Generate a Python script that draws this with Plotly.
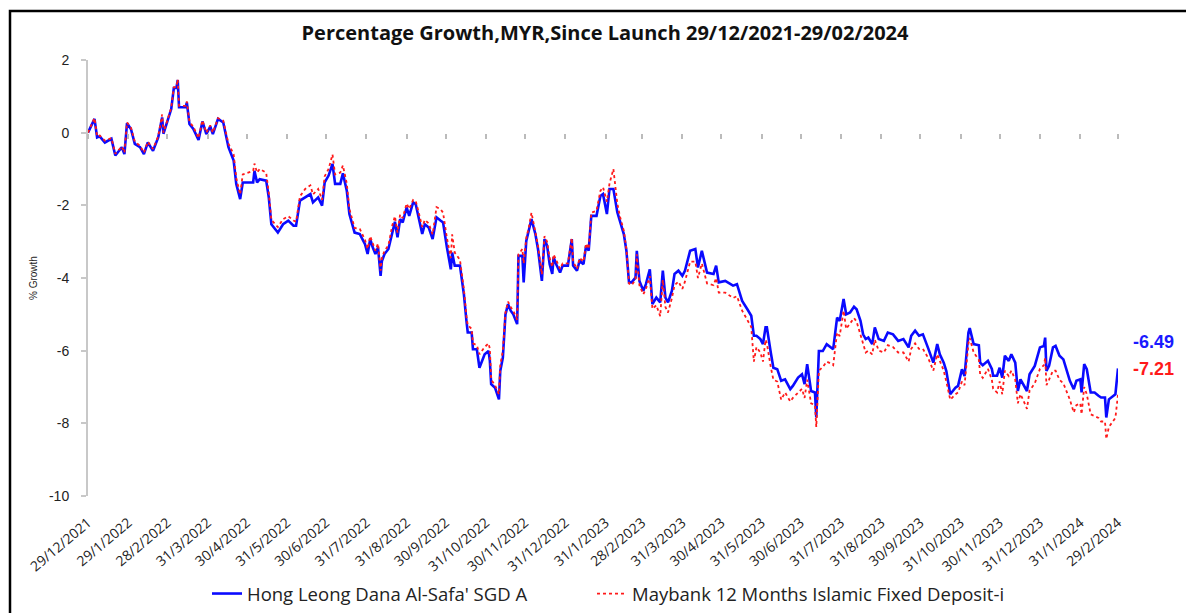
import plotly.graph_objects as go

dates = [
"2021-12-29","2022-01-03","2022-01-05","2022-01-07","2022-01-11","2022-01-16","2022-01-19","2022-01-24","2022-01-26","2022-01-28",
"2022-01-31","2022-02-03","2022-02-07","2022-02-10","2022-02-13","2022-02-17","2022-02-21","2022-02-24","2022-02-25","2022-03-01",
"2022-03-03","2022-03-05","2022-03-07","2022-03-08","2022-03-09","2022-03-14","2022-03-15","2022-03-17","2022-03-20","2022-03-24",
"2022-03-27","2022-03-30","2022-04-02","2022-04-04","2022-04-08","2022-04-12","2022-04-16","2022-04-20","2022-04-22","2022-04-25",
"2022-04-27","2022-05-05","2022-05-06","2022-05-08","2022-05-10","2022-05-15","2022-05-17","2022-05-19","2022-05-24","2022-05-28",
"2022-06-01","2022-06-05","2022-06-07","2022-06-10","2022-06-14","2022-06-18","2022-06-20","2022-06-24","2022-06-27","2022-06-29",
"2022-07-02","2022-07-05","2022-07-07","2022-07-11","2022-07-13","2022-07-16","2022-07-18","2022-07-22","2022-07-26","2022-07-30",
"2022-08-01","2022-08-03","2022-08-05","2022-08-07","2022-08-09","2022-08-11","2022-08-12","2022-08-14","2022-08-17","2022-08-20",
"2022-08-22","2022-08-24","2022-08-26","2022-08-28","2022-08-31","2022-09-02","2022-09-05","2022-09-07","2022-09-10","2022-09-12",
"2022-09-14","2022-09-17","2022-09-20","2022-09-23","2022-09-26","2022-09-28","2022-10-01","2022-10-04","2022-10-05","2022-10-07",
"2022-10-11","2022-10-14","2022-10-16","2022-10-17","2022-10-20","2022-10-21","2022-10-24","2022-10-26","2022-10-30","2022-11-02",
"2022-11-03","2022-11-04","2022-11-07","2022-11-10","2022-11-11","2022-11-13","2022-11-15","2022-11-17","2022-11-19","2022-11-21",
"2022-11-24","2022-11-25","2022-11-28","2022-11-29","2022-12-01","2022-12-03","2022-12-05","2022-12-08","2022-12-10","2022-12-13",
"2022-12-15","2022-12-17","2022-12-19","2022-12-21","2022-12-22","2022-12-24","2022-12-27","2022-12-29","2023-01-02","2023-01-05",
"2023-01-06","2023-01-09","2023-01-11","2023-01-14","2023-01-16","2023-01-18","2023-01-20","2023-01-24","2023-01-27","2023-01-29",
"2023-02-01","2023-02-03","2023-02-06","2023-02-09","2023-02-11","2023-02-14","2023-02-16","2023-02-18","2023-02-20","2023-02-23",
"2023-02-24","2023-02-26","2023-03-01","2023-03-03","2023-03-06","2023-03-08","2023-03-11","2023-03-14","2023-03-16","2023-03-18",
"2023-03-20","2023-03-23","2023-03-25","2023-03-28","2023-03-31","2023-04-02","2023-04-06","2023-04-10","2023-04-12","2023-04-15",
"2023-04-19","2023-04-24","2023-04-26","2023-04-28","2023-05-03","2023-05-09","2023-05-12","2023-05-16","2023-05-20","2023-05-23",
"2023-05-25","2023-05-27","2023-05-30","2023-06-01","2023-06-03","2023-06-04","2023-06-07","2023-06-09","2023-06-12","2023-06-15",
"2023-06-18","2023-06-21","2023-06-22","2023-06-24","2023-06-28","2023-07-01","2023-07-03","2023-07-05","2023-07-08","2023-07-11",
"2023-07-12","2023-07-14","2023-07-17","2023-07-20","2023-07-23","2023-07-25","2023-07-28","2023-07-30","2023-08-02","2023-08-04",
"2023-08-07","2023-08-10","2023-08-12","2023-08-15","2023-08-17","2023-08-19","2023-08-21","2023-08-24","2023-08-26","2023-08-29",
"2023-09-02","2023-09-05","2023-09-09","2023-09-13","2023-09-17","2023-09-21","2023-09-23","2023-09-26","2023-09-29","2023-10-02",
"2023-10-06","2023-10-10","2023-10-13","2023-10-15","2023-10-18","2023-10-20","2023-10-23","2023-10-27","2023-10-29","2023-11-01",
"2023-11-03","2023-11-06","2023-11-07","2023-11-10","2023-11-14","2023-11-15","2023-11-17","2023-11-21","2023-11-24","2023-11-25",
"2023-11-28","2023-11-30","2023-12-02","2023-12-04","2023-12-07","2023-12-09","2023-12-12","2023-12-14","2023-12-16","2023-12-18",
"2023-12-21","2023-12-23","2023-12-27","2023-12-31","2024-01-03","2024-01-04","2024-01-05","2024-01-07","2024-01-10","2024-01-12",
"2024-01-15","2024-01-18","2024-01-21","2024-01-23","2024-01-26","2024-01-28","2024-01-31","2024-02-01","2024-02-03","2024-02-05",
"2024-02-08","2024-02-11","2024-02-14","2024-02-16","2024-02-19","2024-02-20","2024-02-22","2024-02-27","2024-02-29",
]

fund = [
0.00,0.38,-0.13,-0.10,-0.27,-0.17,-0.63,-0.40,-0.59,0.26,
0.10,-0.31,-0.40,-0.59,-0.27,-0.50,-0.13,0.42,-0.03,0.47,
0.65,1.23,1.23,1.45,0.70,0.70,0.83,0.24,0.10,-0.20,
0.31,-0.04,0.17,-0.04,0.38,0.28,-0.40,-0.77,-1.41,-1.83,
-1.37,-1.37,-1.05,-1.37,-1.28,-1.32,-1.78,-2.52,-2.75,-2.52,
-2.42,-2.56,-2.56,-1.87,-1.78,-1.69,-1.92,-1.78,-2.01,-1.37,
-1.18,-0.86,-1.41,-1.41,-1.12,-1.60,-2.24,-2.75,-2.79,-3.07,
-3.34,-2.93,-3.16,-3.34,-3.16,-3.94,-3.53,-3.34,-3.20,-2.70,
-2.45,-2.88,-2.38,-2.47,-2.06,-2.29,-1.92,-1.97,-2.47,-2.79,
-2.52,-2.61,-2.93,-2.33,-2.42,-2.47,-3.16,-3.76,-3.30,-3.66,
-3.66,-4.44,-5.18,-5.50,-5.50,-5.96,-5.96,-6.47,-6.10,-6.01,
-6.28,-6.92,-7.02,-7.34,-6.56,-6.19,-5.00,-4.72,-4.90,-5.00,
-5.27,-3.39,-3.39,-4.12,-2.98,-2.70,-2.38,-2.79,-3.20,-4.08,
-2.93,-3.11,-3.62,-3.89,-3.43,-3.62,-3.85,-3.66,-3.66,-2.93,
-3.66,-3.80,-3.53,-3.62,-3.11,-3.25,-2.29,-2.29,-1.74,-1.69,
-2.24,-1.55,-1.55,-2.19,-2.42,-2.79,-3.25,-4.12,-4.12,-3.99,
-3.25,-4.08,-4.35,-4.17,-3.76,-4.72,-4.54,-4.67,-3.80,-4.54,
-4.67,-4.35,-3.89,-3.80,-3.94,-3.80,-3.25,-3.20,-3.71,-3.25,
-3.85,-3.89,-3.66,-4.12,-4.08,-4.21,-4.17,-4.63,-4.86,-5.04,
-5.59,-5.59,-5.68,-5.82,-5.36,-5.36,-6.05,-6.47,-6.51,-6.83,
-6.79,-6.97,-7.06,-6.97,-6.74,-6.65,-6.92,-6.37,-7.11,-7.15,
-7.84,-6.01,-6.01,-5.82,-5.91,-5.96,-5.09,-5.18,-4.58,-5.00,
-4.95,-4.79,-4.86,-5.18,-5.55,-5.68,-5.64,-5.82,-5.36,-5.68,
-5.73,-5.50,-5.55,-5.73,-5.68,-5.91,-5.59,-5.45,-5.59,-5.55,
-5.93,-6.33,-5.82,-6.10,-6.33,-6.56,-7.20,-7.02,-6.97,-6.51,
-6.70,-5.50,-5.38,-5.82,-5.85,-6.33,-6.40,-6.28,-6.50,-6.69,
-6.69,-6.47,-6.74,-6.14,-6.28,-6.10,-6.33,-7.11,-6.79,-6.92,
-7.11,-6.65,-6.42,-5.91,-5.87,-5.64,-6.56,-6.42,-5.91,-5.87,
-6.14,-6.24,-6.60,-6.83,-7.06,-6.83,-6.79,-7.15,-6.37,-6.51,
-7.15,-7.15,-7.24,-7.29,-7.29,-7.84,-7.34,-7.20,-6.49,
]

deposit = [
0.00,0.40,-0.10,-0.08,-0.22,-0.15,-0.58,-0.38,-0.55,0.28,
0.14,-0.25,-0.36,-0.55,-0.25,-0.45,-0.10,0.50,0.00,0.50,
0.68,1.25,1.26,1.47,0.74,0.74,0.86,0.30,0.16,-0.15,
0.34,0.00,0.20,0.00,0.40,0.33,-0.30,-0.60,-1.25,-1.70,
-1.15,-1.05,-0.85,-1.10,-1.00,-1.10,-1.65,-2.40,-2.60,-2.38,
-2.30,-2.42,-2.45,-1.75,-1.55,-1.45,-1.70,-1.55,-1.85,-1.20,
-1.00,-0.60,-1.15,-1.10,-0.90,-1.40,-2.10,-2.62,-2.65,-2.95,
-3.20,-2.85,-3.05,-3.25,-3.05,-3.80,-3.45,-3.25,-3.10,-2.55,
-2.30,-2.75,-2.25,-2.35,-1.95,-2.10,-1.85,-1.88,-2.30,-2.60,
-2.40,-2.50,-2.80,-2.05,-2.10,-2.20,-2.90,-3.45,-2.80,-3.30,
-3.50,-4.30,-5.05,-5.30,-5.40,-5.80,-5.85,-6.10,-5.90,-5.80,
-5.95,-6.80,-6.95,-7.20,-6.40,-6.00,-4.95,-4.65,-4.80,-4.90,
-5.15,-3.35,-3.20,-3.60,-2.90,-2.60,-2.20,-2.70,-3.10,-3.90,
-2.85,-3.00,-3.45,-3.70,-3.35,-3.50,-3.75,-3.60,-3.60,-2.90,
-3.55,-3.75,-3.45,-3.55,-3.05,-3.20,-2.20,-2.15,-1.60,-1.50,
-1.90,-1.40,-1.00,-1.95,-2.30,-2.70,-3.20,-4.15,-4.20,-4.05,
-3.35,-4.20,-4.45,-4.30,-3.95,-4.85,-4.75,-5.05,-4.05,-4.80,
-4.95,-4.55,-4.20,-4.10,-4.30,-4.10,-3.55,-3.55,-4.00,-3.60,
-4.15,-4.20,-4.00,-4.40,-4.40,-4.55,-4.50,-4.90,-5.15,-5.35,
-6.30,-5.90,-6.05,-6.30,-5.70,-5.80,-6.45,-6.80,-6.85,-7.35,
-7.15,-7.35,-7.40,-7.30,-7.15,-7.05,-7.30,-6.80,-7.45,-7.50,
-8.10,-6.55,-6.45,-6.30,-6.35,-6.40,-5.50,-5.60,-4.90,-5.40,
-5.25,-5.10,-5.20,-5.55,-5.85,-6.05,-6.00,-6.10,-5.70,-6.00,
-6.05,-5.85,-5.90,-6.05,-6.05,-6.30,-5.95,-5.80,-5.95,-5.95,
-6.20,-6.55,-6.10,-6.30,-6.55,-6.85,-7.35,-7.20,-7.15,-6.85,
-6.95,-5.80,-5.65,-6.05,-6.25,-6.65,-6.75,-6.50,-6.80,-7.05,
-7.15,-6.85,-7.20,-6.55,-6.70,-6.55,-6.80,-7.45,-7.20,-7.35,
-7.60,-7.10,-6.90,-6.50,-6.40,-6.20,-6.95,-6.80,-6.55,-6.55,
-6.80,-6.90,-7.15,-7.35,-7.70,-7.50,-7.45,-7.75,-7.00,-7.20,
-7.75,-7.80,-7.85,-7.95,-7.95,-8.43,-8.10,-7.85,-7.21,
]

tick_dates = [
"2021-12-29","2022-01-29","2022-02-28","2022-03-31","2022-04-30","2022-05-31","2022-06-30",
"2022-07-31","2022-08-31","2022-09-30","2022-10-31","2022-11-30","2022-12-31","2023-01-31",
"2023-02-28","2023-03-31","2023-04-30","2023-05-31","2023-06-30","2023-07-31","2023-08-31",
"2023-09-30","2023-10-31","2023-11-30","2023-12-31","2024-01-31","2024-02-29",
]
tick_labels = [
"29/12/2021","29/1/2022","28/2/2022","31/3/2022","30/4/2022","31/5/2022","30/6/2022",
"31/7/2022","31/8/2022","30/9/2022","31/10/2022","30/11/2022","31/12/2022","31/1/2023",
"28/2/2023","31/3/2023","30/4/2023","31/5/2023","30/6/2023","31/7/2023","31/8/2023",
"30/9/2023","31/10/2023","30/11/2023","31/12/2023","31/1/2024","29/2/2024",
]
y_ticks = [-10, -8, -6, -4, -2, 0, 2]
y_tick_labels = ["-10", "-8", "-6", "-4", "-2", "0", "2"]

series_names = ["Hong Leong Dana Al-Safa' SGD A", "Maybank 12 Months Islamic Fixed Deposit-i"]
title_text = "Percentage Growth,MYR,Since Launch 29/12/2021-29/02/2024"

W, H = 1186, 613
L, R, T, B = 88, 68, 60, 117
pw, ph = W - L - R, H - T - B

def px_x(p):
    return (p - L) / pw

def px_y(p):
    return (H - B - p) / ph

fig = go.Figure()
fig.add_trace(go.Scatter(
    x=dates, y=fund, name=series_names[0], mode="lines",
    line=dict(color="#0a0aff", width=2.6), xaxis="x", yaxis="y", legend="legend",
))
fig.add_trace(go.Scatter(
    x=dates, y=deposit, name=series_names[1], mode="lines",
    line=dict(color="#ff1a1a", width=1.8, dash="dot"), xaxis="x2", yaxis="y", legend="legend2",
))

fig.add_annotation(x=dates[-1], y=fund[-1], xref="x", yref="y", text="<b>%.2f</b>" % fund[-1],
                   showarrow=False, xanchor="left", yanchor="middle", xshift=13, yshift=26,
                   font=dict(family="Liberation Sans, Arial", size=18, color="#1a1aff"))
fig.add_annotation(x=dates[-1], y=deposit[-1], xref="x", yref="y", text="<b>%.2f</b>" % deposit[-1],
                   showarrow=False, xanchor="left", yanchor="middle", xshift=13, yshift=26,
                   font=dict(family="Liberation Sans, Arial", size=18, color="#ff1a1a"))

fig.add_shape(type="rect", xref="paper", yref="paper",
              x0=px_x(10), x1=px_x(1230), y0=px_y(700), y1=px_y(11),
              line=dict(color="black", width=2.5), fillcolor="rgba(0,0,0,0)", layer="above")

legend_font = dict(family="Open Sans, Lato", size=18.5, color="#222")
xrange = [tick_dates[0], tick_dates[-1]]
fig.update_layout(
    width=W, height=H,
    margin=dict(l=L, r=R, t=T, b=B, autoexpand=False),
    paper_bgcolor="white", plot_bgcolor="white",
    title=dict(text="<b>" + title_text + "</b>", x=px_x(605), xref="paper", xanchor="center",
               y=1 - 33 / H, yanchor="middle",
               font=dict(family="Open Sans, Lato", size=20, color="#111")),
    xaxis=dict(type="date", range=xrange, tickvals=tick_dates, ticktext=tick_labels,
               tickangle=-40, showgrid=False, showline=False, zeroline=False, ticks="",
               ticklabelstandoff=15,
               tickfont=dict(family="Open Sans, Lato", size=14, color="#222")),
    xaxis2=dict(type="date", range=xrange, overlaying="x", matches="x", anchor="free",
                position=(0 - (-10)) / 12, side="bottom", tickvals=tick_dates,
                showticklabels=False, ticks="outside", ticklen=5, tickwidth=1.5,
                tickcolor="#bbbbbb", showline=False, showgrid=False, zeroline=False),
    yaxis=dict(range=[-10, 2], tickvals=y_ticks, ticktext=y_tick_labels,
               showgrid=False, zeroline=False,
               showline=True, linecolor="#c8c8c8", linewidth=2,
               ticks="outside", ticklen=5, tickcolor="#c8c8c8", tickwidth=1.5,
               ticklabelstandoff=9,
               tickfont=dict(family="Liberation Sans, Arial", size=14, color="#222"),
               title=dict(text="% Growth", standoff=9,
                          font=dict(family="Liberation Sans, Arial", size=10, color="#222"))),
    legend=dict(orientation="h", x=px_x(207), xanchor="left", y=px_y(594), yanchor="middle",
                font=legend_font, bgcolor="rgba(0,0,0,0)"),
    legend2=dict(orientation="h", x=px_x(592), xanchor="left", y=px_y(594), yanchor="middle",
                 font=legend_font, bgcolor="rgba(0,0,0,0)"),
    showlegend=True,
)

fig.write_html("out.html", config={"displayModeBar": False},
               post_script="document.body.style.margin='0px';")
